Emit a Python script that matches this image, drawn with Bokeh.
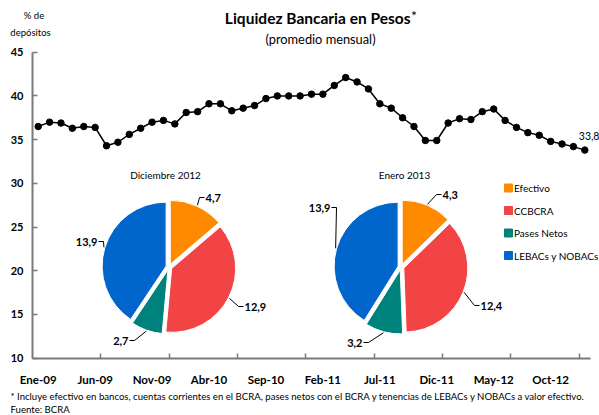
import math
from bokeh.plotting import figure
from bokeh.models import Range1d, FixedTicker, Label
from bokeh.embed import file_html
from bokeh.resources import INLINE

# ---------------- data ----------------
liquidez = [36.5, 37.0, 36.9, 36.3, 36.5, 36.4, 34.3, 34.7, 35.6, 36.3, 37.0, 37.2, 36.8,
            38.1, 38.2, 39.1, 39.1, 38.3, 38.6, 38.9, 39.7, 40.0, 40.0, 40.0, 40.2,
            40.2, 41.2, 42.1, 41.6, 40.8, 39.1, 38.6, 37.5, 36.5, 34.9, 34.9, 36.9,
            37.4, 37.3, 38.2, 38.5, 37.2, 36.4, 35.8, 35.5, 34.8, 34.5, 34.2, 33.8]
mes_idx = list(range(len(liquidez)))
etiquetas_x = ["Ene-09", "Jun-09", "Nov-09", "Abr-10", "Sep-10",
               "Feb-11", "Jul-11", "Dic-11", "May-12", "Oct-12"]
pos_etiquetas_x = [0, 5, 10, 15, 20, 25, 30, 35, 40, 45]
marcas_x = [5.5, 11.5, 17.5, 23.5, 29.5, 35.5, 41.5, 47.5]
ticks_y = [10, 15, 20, 25, 30, 35, 40, 45]

categorias = ["Efectivo", "CCBCRA", "Pases Netos", "LEBACs y NOBACs"]
dic_2012 = [4.7, 12.9, 2.7, 13.9]
ene_2013 = [4.3, 12.4, 3.2, 13.9]
titulos_torta = ["Diciembre 2012", "Enero 2013"]

colores = ["#FF8A00", "#F24444", "#00827C", "#0066CC"]
FONT = "Lato"
GRIS = "#7a7a7a"

def fmt(v):
    return f"{v:.1f}".replace(".", ",")

# ---------------- layout (pixels of the 599x415 canvas) ----------------
W, H = 599, 415
AX_L, AX_R, AX_T, AX_B = 32, 590, 51.7, 357.7     # axis box in canvas pixels
X0, X1, Y0, Y1 = -0.5, 48.5, 10, 45
ppx = (AX_R - AX_L) / (X1 - X0)
ppy = (AX_B - AX_T) / (Y1 - Y0)
x_range = Range1d(X0 - AX_L / ppx, X1 + (W - AX_R) / ppx)
y_range = Range1d(Y0 - (H - AX_B) / ppy, Y1 + AX_T / ppy)

p = figure(width=W, height=H, x_range=x_range, y_range=y_range,
           output_backend="svg", toolbar_location=None, min_border=0)
p.extra_x_ranges = {"px": Range1d(0, W)}
p.extra_y_ranges = {"py": Range1d(0, H)}
p.outline_line_color = None
p.grid.visible = False
p.background_fill_color = "white"
p.border_fill_color = "white"

# y axis
p.yaxis.fixed_location = X0
p.yaxis.bounds = (Y0, Y1)
p.yaxis.ticker = FixedTicker(ticks=ticks_y)
p.yaxis.axis_line_color = GRIS
p.yaxis.axis_line_width = 2
p.yaxis.major_tick_line_color = GRIS
p.yaxis.major_tick_line_width = 1.5
p.yaxis.major_tick_in = 5
p.yaxis.major_tick_out = 0
p.yaxis.minor_tick_line_color = None
p.yaxis.major_label_text_font = FONT
p.yaxis.major_label_text_font_style = "bold"
p.yaxis.major_label_text_font_size = "11px"
p.yaxis.major_label_text_color = "black"
p.yaxis.major_label_standoff = 9

# x axis
p.xaxis.fixed_location = Y0
p.xaxis.bounds = (X0, X1)
p.xaxis.ticker = FixedTicker(ticks=pos_etiquetas_x, minor_ticks=marcas_x)
p.xaxis.major_label_overrides = {k: v for k, v in zip(pos_etiquetas_x, etiquetas_x)}
p.xaxis.axis_line_color = GRIS
p.xaxis.axis_line_width = 2
p.xaxis.major_tick_line_color = None
p.xaxis.major_tick_in = 0
p.xaxis.major_tick_out = 0
p.xaxis.minor_tick_line_color = GRIS
p.xaxis.minor_tick_line_width = 1.5
p.xaxis.minor_tick_in = 5
p.xaxis.minor_tick_out = 0
p.xaxis.major_label_text_font = FONT
p.xaxis.major_label_text_font_style = "bold"
p.xaxis.major_label_text_font_size = "11.5px"
p.xaxis.major_label_text_color = "black"
p.xaxis.major_label_standoff = 15

# line series
p.line(mes_idx, liquidez, line_color="black", line_width=1.5)
p.scatter(mes_idx, liquidez, size=6.5, fill_color="black", line_color="black")
p.add_layout(Label(x=mes_idx[-1], y=liquidez[-1], x_offset=-6, y_offset=14, text=fmt(liquidez[-1]),
                   text_font=FONT, text_font_size="10.5px", text_baseline="middle",
                   text_color="black"))

# ---------------- pies (canvas pixel coordinates, y up) ----------------
R, EXPL = 64, 3
centros = [(168.5, H - 266.5), (400.5, H - 266.5)]
offs_etiquetas = [
    [(36.5, 69.5), (75.5, -39.5), (-40.5, -73.5), (-71.5, 25.5)],
    [(41.5, 72.5), (79.5, -38.5), (-38.5, -75.5), (-70.5, 59.5)],
]
pos_titulos = [(165, H - 174), (404, H - 174)]

for k, datos in enumerate([dic_2012, ene_2013]):
    cx, cy = centros[k]
    total = sum(datos)
    acum = 0.0
    lx, ly = [], []
    for i, v in enumerate(datos):
        a0 = acum / total * 2 * math.pi
        acum += v
        a1 = acum / total * 2 * math.pi
        mid = math.pi / 2 - (a0 + a1) / 2
        ox, oy = EXPL * math.cos(mid), EXPL * math.sin(mid)
        p.wedge(x=[cx + ox], y=[cy + oy], radius=R, radius_units="screen",
                start_angle=math.pi / 2 - a1, end_angle=math.pi / 2 - a0,
                direction="anticlock", fill_color=colores[i], line_color="white",
                line_width=1, x_range_name="px", y_range_name="py")
        sx = cx + (R + EXPL + 1) * math.cos(mid)
        sy = cy + (R + EXPL + 1) * math.sin(mid)
        dx, dy = offs_etiquetas[k][i]
        tx, ty = cx + dx, cy + dy
        derecha = math.cos(mid) >= 0
        sgn = -1 if derecha else 1
        lx.append([sx, tx + sgn * 6, tx + sgn * 1])
        ly.append([sy, ty, ty])
        p.add_layout(Label(x=tx, y=ty, x_range_name="px", y_range_name="py", text=fmt(v),
                           text_font=FONT, text_font_style="bold", text_font_size="11px",
                           text_align="left" if derecha else "right",
                           text_baseline="middle", text_color="black"))
    p.multi_line(lx, ly, line_color="black", line_width=1,
                 x_range_name="px", y_range_name="py")
    tx, ty = pos_titulos[k]
    p.add_layout(Label(x=tx, y=ty, x_range_name="px", y_range_name="py", text=titulos_torta[k],
                       text_font=FONT, text_font_size="10px", text_align="center",
                       text_baseline="middle", text_color="black"))

# legend
ley_x, ley_y0, ley_dy = 508, H - 187.5, 22.5
ley_ys = [ley_y0 - i * ley_dy for i in range(len(categorias))]
p.scatter(x=[ley_x] * len(categorias), y=ley_ys, marker="square", size=8,
          fill_color=colores, line_color=colores, x_range_name="px", y_range_name="py")
for i, c in enumerate(categorias):
    p.add_layout(Label(x=ley_x + 5.5, y=ley_ys[i], x_range_name="px", y_range_name="py", text=c,
                       text_font=FONT, text_font_size="10px", text_baseline="middle",
                       text_color="black"))

# ---------------- titles & notes ----------------
def txt(x, y, t, size, style="normal", align="left"):
    p.add_layout(Label(x=x, y=H - y, x_range_name="px", y_range_name="py", text=t,
                       text_font=FONT, text_font_size=size, text_font_style=style,
                       text_align=align, text_baseline="middle", text_color="black"))

txt(410, 17, "Liquidez Bancaria en Pesos", "15.5px", "bold", "right")
txt(410.5, 15, "*", "14px")
txt(320, 38, "(promedio mensual)", "12.8px", align="center")
txt(33.5, 15, "% de", "9.5px", align="center")
txt(30, 32, "depósitos", "9.5px", align="center")
txt(10, 395.5, "* Incluye efectivo en bancos, cuentas corrientes en el BCRA, pases netos con el BCRA "
    "y tenencias de LEBACs y NOBACs a valor efectivo.", "9.6px")
txt(10, 409, "Fuente: BCRA", "9.6px")

open("out.html", "w").write(file_html(p, INLINE))
